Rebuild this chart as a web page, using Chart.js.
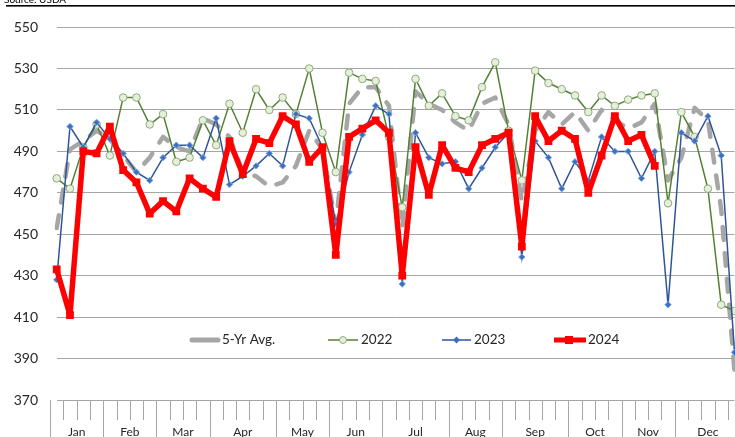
<!DOCTYPE html>
<html>
<head>
<meta charset="utf-8">
<title>Weekly values vs 5-Yr Avg.</title>
<script src="https://cdn.jsdelivr.net/npm/chart.js@4.4.1/dist/chart.umd.min.js"></script>
<style>
  html, body { margin: 0; padding: 0; background: #fff; overflow: hidden; }
  #wrap { position: absolute; left: 0; top: 0; width: 740px; height: 446px; }
</style>
</head>
<body>
<div id="wrap"><canvas id="chart"></canvas></div>
<script>
// Month groups under the weekly x axis
const months = ['Jan', 'Feb', 'Mar', 'Apr', 'May', 'Jun', 'Jul', 'Aug', 'Sep', 'Oct', 'Nov', 'Dec'];
const weeksPerMonth = [4, 4, 4, 5, 4, 4, 5, 4, 5, 4, 4, 5];

// y axis range and step
const yMin = 370;
const yMax = 550;
const yStep = 20;

// Series, one value per week
const avg5yr = [453, 491, 495, 500, 496, 488, 480, 487, 497, 492,
  490, 506, 503, 497, 480, 478, 473, 475, 483, 500,
  491, 455, 513, 521, 521, 512, 453, 519, 513, 510,
  504, 500, 513, 516, 503, 466, 500, 509, 503, 509,
  500, 510, 505, 501, 504, 513, 476, 487, 511, 505,
  462, 384];
const y2022 = [477, 472, 492, 503, 488, 516, 516, 503, 508, 485,
  487, 505, 493, 513, 499, 520, 510, 516, 508, 530,
  499, 480, 528, 525, 524, 497, 463, 525, 512, 518,
  507, 505, 521, 533, 500, 476, 529, 523, 520, 517,
  509, 517, 512, 515, 517, 518, 465, 509, 497, 472,
  416, 413];
const y2023 = [428, 502, 492, 504, 496, 489, 480, 476, 487, 493,
  493, 487, 506, 474, 478, 483, 489, 483, 508, 506,
  492, 455, 480, 498, 512, 508, 426, 499, 487, 484,
  485, 472, 482, 492, 499, 439, 495, 487, 472, 485,
  476, 497, 490, 490, 477, 490, 416, 499, 495, 507,
  488, 393];
const y2024 = [433, 411, 490, 489, 502, 481, 475, 460, 466, 461,
  477, 472, 468, 495, 479, 496, 494, 507, 503, 485,
  492, 440, 497, 501, 505, 499, 430, 492, 469, 493,
  482, 480, 493, 496, 499, 444, 507, 495, 500, 496,
  470, 488, 507, 495, 498, 483];

// one category per week, named after its month
const weekLabels = [];
months.forEach((m, i) => {
  for (let w = 1; w <= weeksPerMonth[i]; w++) weekLabels.push(m + ' wk' + w);
});

const FONT = 'Lato, "Open Sans", sans-serif';
const TEXT = '#262626';
const GRID = '#a6a6a6';

// Tick marks, month names, header rule and the in-plot legend
const decorPlugin = {
  id: 'decor',
  afterDraw(chart) {
    const ctx = chart.ctx;
    const x = chart.scales.x;
    const area = chart.chartArea;
    const bottom = chart.height;
    ctx.save();

    // week ticks, longer at month boundaries
    const bounds = [0];
    weeksPerMonth.forEach(n => bounds.push(bounds[bounds.length - 1] + n));
    ctx.strokeStyle = GRID;
    ctx.lineWidth = 1;
    for (let i = 0; i <= weekLabels.length; i++) {
      const px = Math.round(x.getPixelForValue(i - 0.5)) + 0.5;
      const longTick = bounds.includes(i);
      ctx.beginPath();
      ctx.moveTo(px, area.bottom);
      ctx.lineTo(px, longTick ? bottom : area.bottom + 20);
      ctx.stroke();
    }
    ctx.fillStyle = TEXT;
    ctx.font = '12px ' + FONT;
    ctx.textAlign = 'center';
    ctx.textBaseline = 'middle';
    months.forEach((m, i) => {
      const mid = (x.getPixelForValue(bounds[i] - 0.5) + x.getPixelForValue(bounds[i + 1] - 0.5)) / 2;
      ctx.fillText(m, mid, 432);
    });

    // header rule and source note, cropped at the top
    ctx.fillStyle = '#000';
    ctx.fillRect(6, 5, chart.width, 1.6);
    ctx.font = '10px ' + FONT;
    ctx.textAlign = 'left';
    ctx.textBaseline = 'alphabetic';
    ctx.fillText('Source: USDA', 4, 3);

    // legend
    const ly = 340;
    ctx.font = '13.5px ' + FONT;
    ctx.textBaseline = 'middle';
    ctx.lineCap = 'round';
    ctx.strokeStyle = '#a6a6a6';
    ctx.lineWidth = 5;
    ctx.beginPath(); ctx.moveTo(192, ly); ctx.lineTo(218, ly); ctx.stroke();
    ctx.fillStyle = TEXT;
    ctx.fillText('5-Yr Avg.', 222, ly);

    ctx.lineCap = 'butt';
    ctx.strokeStyle = '#548235';
    ctx.lineWidth = 1.5;
    ctx.beginPath(); ctx.moveTo(328, ly); ctx.lineTo(358, ly); ctx.stroke();
    ctx.beginPath(); ctx.arc(343, ly, 3.5, 0, Math.PI * 2);
    ctx.fillStyle = '#e6efdc'; ctx.fill();
    ctx.strokeStyle = '#8faa7a'; ctx.lineWidth = 1; ctx.stroke();
    ctx.fillStyle = TEXT;
    ctx.fillText('2022', 361, ly);

    ctx.strokeStyle = '#2f5597';
    ctx.lineWidth = 1.5;
    ctx.beginPath(); ctx.moveTo(442, ly); ctx.lineTo(471, ly); ctx.stroke();
    ctx.beginPath();
    ctx.moveTo(456.5, ly - 3.5); ctx.lineTo(460, ly); ctx.lineTo(456.5, ly + 3.5); ctx.lineTo(453, ly);
    ctx.closePath();
    ctx.fillStyle = '#3c6fc1'; ctx.fill();
    ctx.fillStyle = TEXT;
    ctx.fillText('2023', 474, ly);

    ctx.strokeStyle = '#ff0000';
    ctx.lineWidth = 5;
    ctx.beginPath(); ctx.moveTo(554, ly); ctx.lineTo(586, ly); ctx.stroke();
    ctx.fillStyle = '#ff0000';
    ctx.fillRect(565, ly - 4, 8, 8);
    ctx.fillStyle = TEXT;
    ctx.fillText('2024', 588, ly);

    ctx.restore();
  }
};

new Chart(document.getElementById('chart'), {
  type: 'line',
  data: {
    labels: weekLabels,
    datasets: [
      {
        label: '5-Yr Avg.',
        data: avg5yr,
        order: 3,
        borderColor: '#a6a6a6',
        borderWidth: 4.5,
        borderDash: [13, 13],
        borderCapStyle: 'round',
        borderJoinStyle: 'round',
        pointRadius: 0
      },
      {
        label: '2022',
        data: y2022,
        order: 2,
        borderColor: '#548235',
        borderWidth: 1.5,
        pointStyle: 'circle',
        pointRadius: 3.8,
        pointBackgroundColor: '#e6efdc',
        pointBorderColor: '#8faa7a',
        pointBorderWidth: 1
      },
      {
        label: '2023',
        data: y2023,
        order: 1,
        borderColor: '#2f5597',
        borderWidth: 1.5,
        pointStyle: 'rectRot',
        pointRadius: 3.2,
        pointBackgroundColor: '#3c6fc1',
        pointBorderColor: '#7fa7dd',
        pointBorderWidth: 1
      },
      {
        label: '2024',
        data: y2024,
        order: 0,
        borderColor: '#ff0000',
        borderWidth: 5.5,
        borderJoinStyle: 'bevel',
        pointStyle: 'rect',
        pointRadius: 5.5,
        pointBackgroundColor: '#ff0000',
        pointBorderColor: '#ff0000',
        pointBorderWidth: 0
      }
    ]
  },
  options: {
    responsive: true,
    maintainAspectRatio: false,
    animation: false,
    devicePixelRatio: 1,
    layout: { padding: { top: 18.3, right: 3.6, left: 0, bottom: 0 } },
    plugins: {
      legend: { display: false },
      tooltip: { enabled: false }
    },
    scales: {
      x: {
        ticks: { display: false },
        grid: { display: false },
        border: { display: false },
        afterFit: s => { s.height = 46; }
      },
      y: {
        min: yMin,
        max: yMax,
        ticks: {
          stepSize: yStep,
          padding: 18.7,
          color: TEXT,
          font: { family: FONT, size: 14 }
        },
        grid: { color: GRID, lineWidth: 1, drawTicks: false },
        border: { display: false },
        afterFit: s => { s.width = 56.7; }
      }
    }
  },
  plugins: [decorPlugin]
});
</script>
</body>
</html>
